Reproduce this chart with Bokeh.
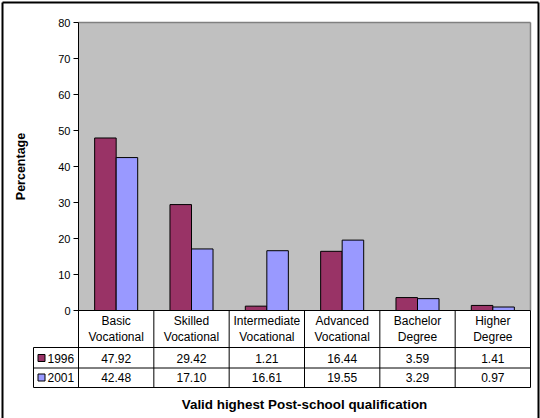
import numpy as np
from bokeh.plotting import figure
from bokeh.models import Range1d, FixedTicker
from bokeh.core.properties import value
from bokeh.embed import file_html
from bokeh.resources import INLINE

# ---- data ----
categories_line1 = ["Basic", "Skilled", "Intermediate", "Advanced", "Bachelor", "Higher"]
categories_line2 = ["Vocational", "Vocational", "Vocational", "Vocational", "Degree", "Degree"]
series_names = ["1996", "2001"]
values_1996 = [47.92, 29.42, 1.21, 16.44, 3.59, 1.41]
values_2001 = [42.48, 17.10, 16.61, 19.55, 3.29, 0.97]
y_ticks = [0, 10, 20, 30, 40, 50, 60, 70, 80]

# ---- styles / layout (pixel positions of the chart layout) ----
FONT = "Liberation Sans"
C1996 = "#993366"
C2001 = "#9999FF"
PLOT_BG = "#C0C0C0"
W, H = 540, 418
LEFT, RIGHT = 78, 530      # plot-area pixel edges
TOP, ZERO = 22, 310        # y pixel of 80 and of 0
ROW1, ROW2, TABLE_BOTTOM = 347, 367.5, 387
LEG_LEFT = 33

n = len(values_1996)
xs = np.arange(n) + 0.5
BAR_W = 1 / 3.5
S = (RIGHT - LEFT) / n           # px per category
PX = (ZERO - TOP) / 80.0         # px per percent


def dx(px):
    return (px - LEFT) / S


def dy(py):
    return (ZERO - py) / PX


p = figure(width=W, height=H, title=None,
           x_range=Range1d(dx(0), dx(W)), y_range=Range1d(dy(H), dy(0)),
           output_backend="svg", toolbar_location=None, x_axis_location=None,
           min_border=0)
p.background_fill_color = "white"
p.border_fill_color = "white"
p.outline_line_color = None
p.grid.visible = False

# grey plot area with grey border on top/right
p.quad(left=[0], right=[n], bottom=[0], top=[80], fill_color=PLOT_BG, line_color=None)
p.segment(x0=[0, n], y0=[80, 80], x1=[n, n], y1=[80, 0], line_color="#808080", line_width=1.5)

# bars
p.vbar(x=xs - BAR_W / 2, top=values_1996, width=BAR_W, fill_color=C1996, line_color="black", line_width=1)
p.vbar(x=xs + BAR_W / 2, top=values_2001, width=BAR_W, fill_color=C2001, line_color="black", line_width=1)

# ---- data table ----
y_bot = dy(TABLE_BOTTOM)
xl = dx(LEG_LEFT)
hy = [0, dy(ROW1), dy(ROW2), y_bot]
p.segment(x0=[0, xl, xl, xl], y0=hy, x1=[n] * 4, y1=hy, line_color="black", line_width=1)
vx = list(range(1, n + 1)) + [xl]
vy0 = [0] * n + [dy(ROW1)]
p.segment(x0=vx, y0=vy0, x1=vx, y1=[y_bot] * (n + 1), line_color="black", line_width=1)

# y axis drawn at the left edge of the plot area, running down the table
ya = p.yaxis[0]
ya.fixed_location = 0
ya.ticker = FixedTicker(ticks=y_ticks)
ya.bounds = (y_bot, 80)
ya.axis_line_color = "black"
ya.major_tick_line_color = "black"
ya.major_tick_out = 5
ya.major_tick_in = 0
ya.minor_tick_line_color = None
ya.major_label_standoff = 3
ya.major_label_text_font = FONT
ya.major_label_text_font_size = "11px"
ya.major_label_text_color = "black"

tf = value(FONT)
p.text(x=[dx(20)], y=[40], text=["Percentage"], angle=np.pi / 2, text_align="center",
       text_baseline="middle", text_font=tf, text_font_size="12.5px", text_font_style="bold",
       text_color="black")

p.text(x=xs, y=[dy(320)] * n, text=categories_line1, text_align="center", text_baseline="middle",
       text_font=tf, text_font_size="12px", text_color="black")
p.text(x=xs, y=[dy(336)] * n, text=categories_line2, text_align="center", text_baseline="middle",
       text_font=tf, text_font_size="12px", text_color="black")
r1c, r2c = 357.7, 377
p.text(x=xs, y=[dy(r1c)] * n, text=["%.2f" % v for v in values_1996], text_align="center",
       text_baseline="middle", text_font=tf, text_font_size="12px", text_color="black")
p.text(x=xs, y=[dy(r2c)] * n, text=["%.2f" % v for v in values_2001], text_align="center",
       text_baseline="middle", text_font=tf, text_font_size="12px", text_color="black")

# legend keys of the table
p.scatter(x=[dx(41)] * 2, y=[dy(357.5), dy(377)], marker="square", size=7,
          fill_color=[C1996, C2001], line_color="black", line_width=1)
p.text(x=[dx(47)] * 2, y=[dy(r1c), dy(r2c)], text=series_names, text_align="left",
       text_baseline="middle", text_font=tf, text_font_size="12px", text_color="black")

# category axis title
p.text(x=[n / 2], y=[dy(404)], text=["Valid highest Post-school qualification"], text_align="center",
       text_baseline="middle", text_font=tf, text_font_size="13.4px", text_font_style="bold",
       text_color="black")

# outer chart border (top, left, right)
bl, br, bt = dx(2), dx(538), dy(2)
p.segment(x0=[bl, bl, br], y0=[bt, bt, bt], x1=[br, bl, br], y1=[bt, dy(H + 5), dy(H + 5)],
          line_color="black", line_width=2)

open("out.html", "w").write(file_html(p, INLINE))
